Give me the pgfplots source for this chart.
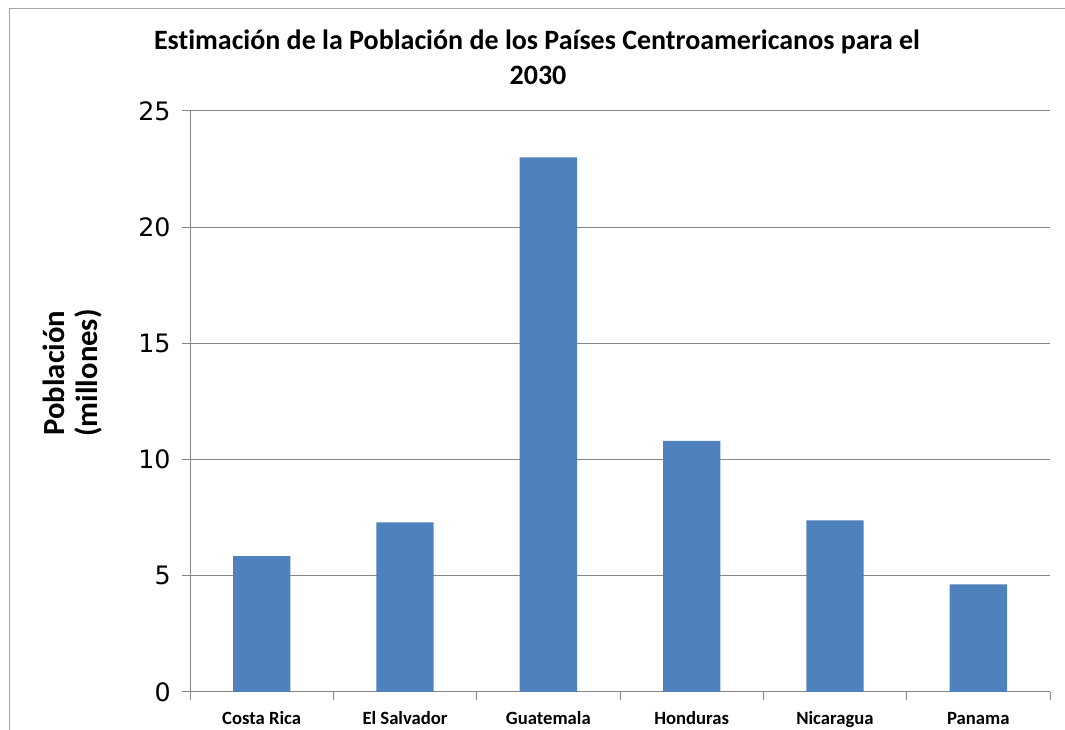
\documentclass[border=0pt]{standalone}
\usepackage{fontspec}
\setmainfont[Ligatures=NoCommon]{Carlito}
\newfontfamily\verd{DejaVu Sans}
\usepackage{pgfplots}
\pgfplotsset{compat=1.18}
\definecolor{barblue}{HTML}{4F81BD}
\definecolor{gridgray}{HTML}{868686}
\begin{document}
\begin{tikzpicture}
\useasboundingbox (0,0) rectangle (798.75pt,547.5pt);
\draw[color=gray!70,line width=0.75pt] (6.75pt,0pt) -- (6.75pt,540.75pt) -- (798.75pt,540.75pt);
\node[font=\bfseries\fontsize{21}{25}\selectfont,anchor=center] at (402.75pt,516pt) {Estimación de la Población de los Países Centroamericanos para el};
\node[font=\bfseries\fontsize{21}{25}\selectfont,anchor=center] at (403.5pt,491.25pt) {2030};
\node[font=\bfseries\fontsize{23}{27}\selectfont,rotate=90,anchor=center] at (40.5pt,267.75pt) {Población};
\node[font=\bfseries\fontsize{23}{27}\selectfont,rotate=90,anchor=center] at (66pt,267.75pt) {(millones)};
\begin{axis}[
  at={(142.5pt,28.5pt)}, anchor=south west,
  scale only axis, width=645pt, height=435.75pt,
  xmin=-0.5, xmax=5.5, ymin=0, ymax=25,
  axis x line*=bottom, axis y line*=left,
  axis line style={gridgray,line width=0.75pt},
  ytick={0,5,...,25},
  ymajorgrids, major grid style={gridgray,line width=0.75pt},
  xtick={0,1,2,3,4,5},
  xticklabels={Costa Rica,El Salvador,Guatemala,Honduras,Nicaragua,Panama},
  xticklabel style={font=\bfseries\fontsize{14}{16}\selectfont,text height=10pt,text depth=3pt,yshift=-5pt},
  major x tick style={draw=none},
  minor xtick={-0.5,0.5,1.5,2.5,3.5,4.5,5.5},
  minor x tick style={gridgray,line width=0.75pt},
  tick align=outside, major tick length=6pt, minor tick length=6pt,
  y tick style={gridgray,line width=0.75pt},
  yticklabel style={font=\verd\fontsize{19}{22}\selectfont,xshift=-5pt},
  /pgf/number format/assume math mode=true,
  clip=false,
]
\addplot[ybar, bar width=0.4, fill=barblue, draw=none] coordinates {
 (0,5.85) (1,7.30) (2,23.0) (3,10.8) (4,7.38) (5,4.63)
};
\end{axis}
\end{tikzpicture}
\end{document}
